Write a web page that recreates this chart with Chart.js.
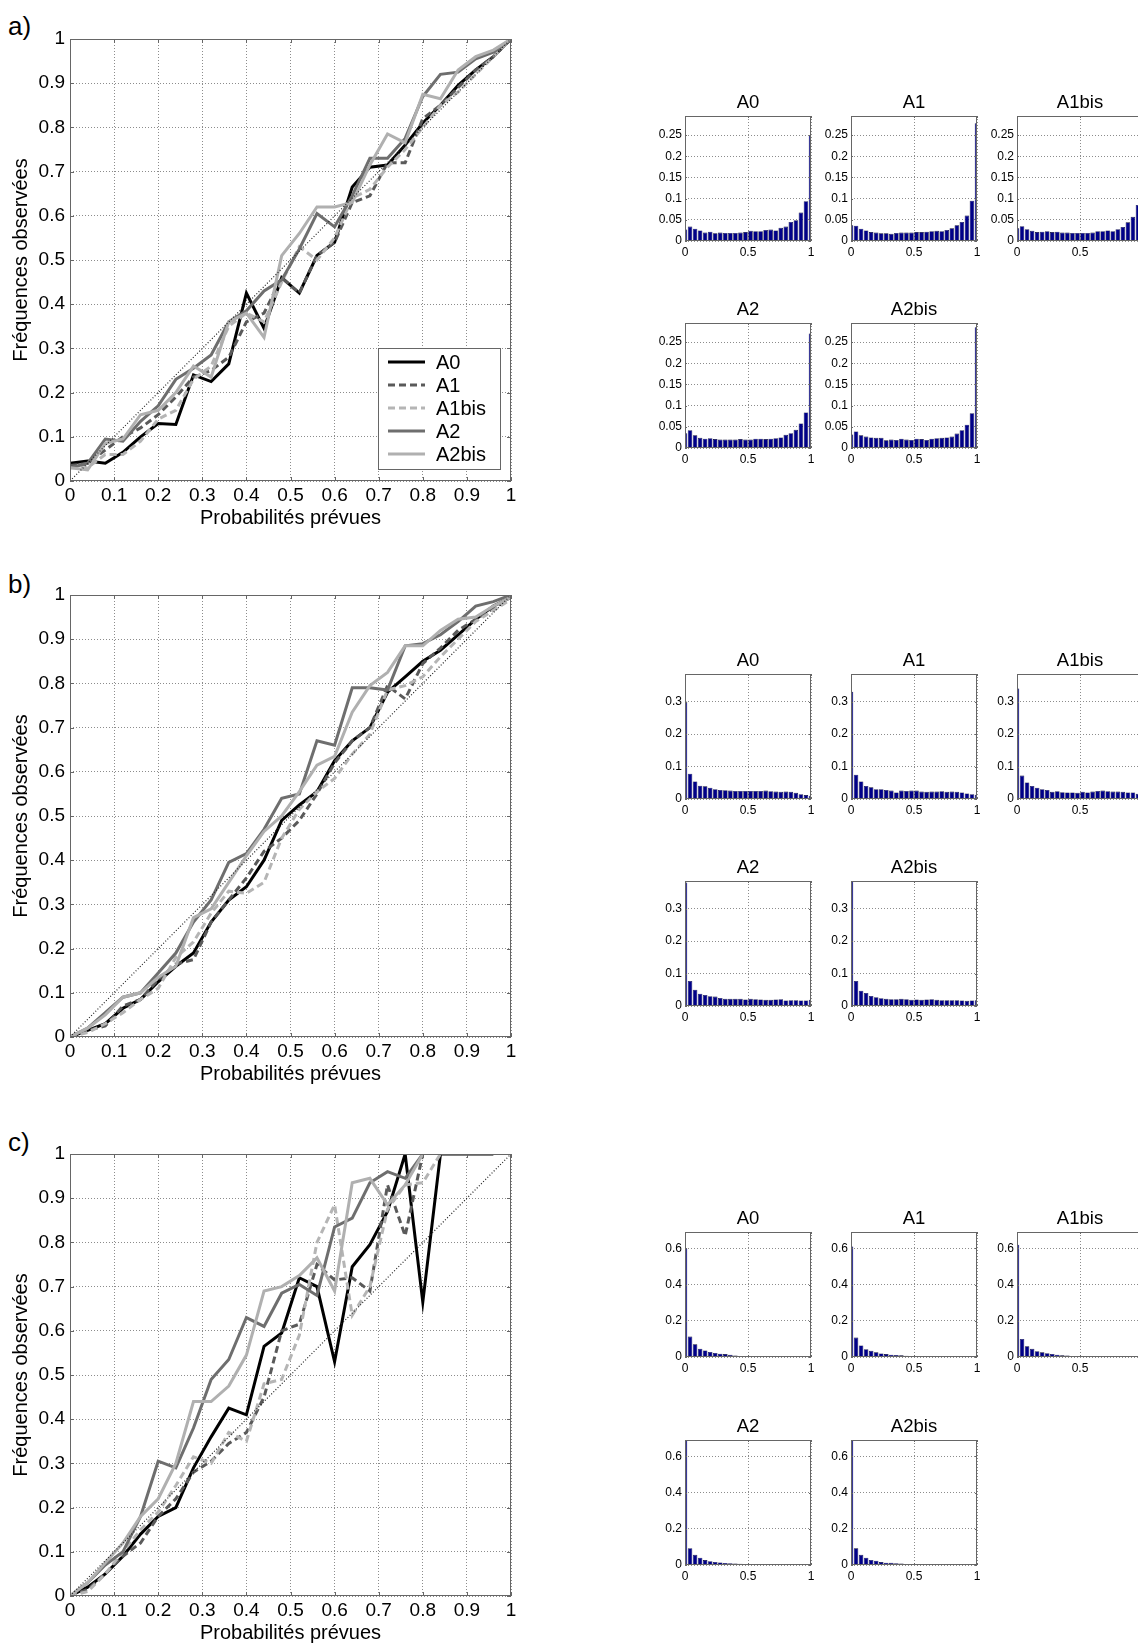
<!DOCTYPE html>
<html>
<head>
<meta charset="utf-8">
<script src="https://cdn.jsdelivr.net/npm/chart.js@4/dist/chart.umd.min.js"></script>
<style>
html, body { margin: 0; padding: 0; background: #fff; }
body { width: 1138px; height: 1646px; position: relative; overflow: hidden; font-family: "Liberation Sans", Arial, sans-serif; }
canvas { position: absolute; }
.panel { position: absolute; font-size: 26px; line-height: 30px; color: #000; }
</style>
</head>
<body>
<div class="panel" style="left:8px; top:11px">a)</div>
<div class="panel" style="left:8px; top:569px">b)</div>
<div class="panel" style="left:8px; top:1127px">c)</div>
<script>
// forecast probability classes (also the histogram bin centres)
const probs = [0, 0.04, 0.08, 0.12, 0.16, 0.2, 0.24, 0.28, 0.32, 0.36, 0.4, 0.44, 0.48,
               0.52, 0.56, 0.6, 0.64, 0.68, 0.72, 0.76, 0.8, 0.84, 0.88, 0.92, 0.96, 1];
const names = ['A0', 'A1', 'A1bis', 'A2', 'A2bis'];
const perfect = [0, 1];

// observed frequencies, panel a
const a_A0    = [0.04, 0.045, 0.04, 0.065, 0.10, 0.13, 0.128, 0.24, 0.225, 0.265, 0.425, 0.345, 0.46, 0.425, 0.51, 0.54, 0.665, 0.71, 0.715, 0.76, 0.81, 0.85, 0.895, 0.93, 0.96, 1.0];
const a_A1    = [0.035, 0.04, 0.07, 0.10, 0.12, 0.15, 0.19, 0.235, 0.25, 0.28, 0.36, 0.38, 0.46, 0.425, 0.51, 0.54, 0.63, 0.645, 0.72, 0.72, 0.82, 0.85, 0.89, 0.93, 0.96, 1.0];
const a_A1bis = [0.03, 0.03, 0.06, 0.06, 0.09, 0.14, 0.16, 0.23, 0.26, 0.35, 0.38, 0.36, 0.45, 0.53, 0.50, 0.55, 0.64, 0.66, 0.71, 0.75, 0.80, 0.85, 0.88, 0.92, 0.96, 1.0];
const a_A2    = [0.03, 0.04, 0.095, 0.09, 0.135, 0.17, 0.23, 0.255, 0.285, 0.36, 0.385, 0.43, 0.455, 0.525, 0.605, 0.575, 0.645, 0.73, 0.73, 0.775, 0.87, 0.92, 0.925, 0.955, 0.97, 1.0];
const a_A2bis = [0.03, 0.025, 0.085, 0.095, 0.15, 0.16, 0.20, 0.26, 0.235, 0.36, 0.38, 0.325, 0.51, 0.56, 0.62, 0.62, 0.63, 0.715, 0.785, 0.765, 0.875, 0.865, 0.93, 0.96, 0.975, 1.0];

// panel b
const b_A0    = [0, 0.015, 0.03, 0.065, 0.085, 0.125, 0.16, 0.19, 0.26, 0.31, 0.34, 0.40, 0.49, 0.525, 0.555, 0.625, 0.67, 0.70, 0.78, 0.815, 0.85, 0.875, 0.91, 0.945, 0.975, 0.995];
const b_A1    = [0, 0.015, 0.025, 0.07, 0.085, 0.13, 0.165, 0.175, 0.26, 0.31, 0.36, 0.42, 0.45, 0.49, 0.55, 0.62, 0.67, 0.70, 0.795, 0.765, 0.845, 0.88, 0.92, 0.945, 0.97, 0.995];
const b_A1bis = [0, 0.01, 0.03, 0.055, 0.085, 0.11, 0.18, 0.215, 0.28, 0.33, 0.325, 0.35, 0.45, 0.515, 0.555, 0.585, 0.64, 0.685, 0.785, 0.795, 0.815, 0.86, 0.90, 0.94, 0.965, 0.99];
const b_A2    = [0, 0.02, 0.055, 0.09, 0.10, 0.145, 0.19, 0.26, 0.31, 0.395, 0.415, 0.47, 0.54, 0.55, 0.67, 0.66, 0.79, 0.79, 0.785, 0.885, 0.89, 0.91, 0.94, 0.975, 0.985, 1.0];
const b_A2bis = [0, 0.02, 0.05, 0.09, 0.10, 0.135, 0.16, 0.27, 0.29, 0.35, 0.41, 0.465, 0.50, 0.555, 0.615, 0.635, 0.735, 0.795, 0.825, 0.885, 0.885, 0.92, 0.945, 0.95, 0.975, 0.995];

// panel c (empty classes left out)
const c_A0    = [0, 0.02, 0.05, 0.09, 0.14, 0.18, 0.20, 0.29, 0.36, 0.425, 0.41, 0.565, 0.595, 0.72, 0.70, 0.53, 0.745, 0.795, 0.87, 1.0, 0.665, 1.0, 1.0, 1.0, 1.0, null];
const c_A1    = [0, 0.015, 0.05, 0.09, 0.12, 0.18, 0.22, 0.28, 0.305, 0.345, 0.37, 0.45, 0.60, 0.615, 0.75, 0.715, 0.72, 0.69, 0.93, 0.815, 1.0, null, null, null, null, null];
const c_A1bis = [0, 0.01, 0.05, 0.10, 0.15, 0.19, 0.25, 0.315, 0.30, 0.37, 0.35, 0.48, 0.49, 0.59, 0.80, 0.885, 0.635, 0.70, 0.875, 0.93, 0.935, 1.0, null, null, null, null];
const c_A2    = [0, 0.03, 0.07, 0.10, 0.18, 0.305, 0.29, 0.38, 0.49, 0.535, 0.63, 0.61, 0.685, 0.705, 0.68, 0.835, 0.855, 0.935, 0.96, 0.945, 1.0, null, null, null, null, null];
const c_A2bis = [0, 0.03, 0.075, 0.12, 0.18, 0.22, 0.30, 0.44, 0.44, 0.475, 0.545, 0.69, 0.70, 0.725, 0.765, 0.69, 0.935, 0.945, 0.885, 0.93, 1.0, null, null, null, null, null];

// forecast frequency histograms
const a_hA0    = [0.027, 0.034, 0.029, 0.025, 0.020, 0.022, 0.018, 0.020, 0.019, 0.019, 0.019, 0.020, 0.021, 0.024, 0.023, 0.023, 0.026, 0.027, 0.025, 0.031, 0.034, 0.045, 0.049, 0.067, 0.094, 0.250];
const a_hA1    = [0.037, 0.036, 0.029, 0.025, 0.021, 0.020, 0.018, 0.018, 0.017, 0.019, 0.020, 0.020, 0.020, 0.021, 0.021, 0.022, 0.023, 0.024, 0.023, 0.026, 0.030, 0.037, 0.045, 0.060, 0.095, 0.278];
const a_hA1bis = [0.030, 0.035, 0.028, 0.024, 0.021, 0.022, 0.023, 0.021, 0.022, 0.020, 0.020, 0.019, 0.019, 0.019, 0.019, 0.020, 0.023, 0.023, 0.025, 0.023, 0.028, 0.033, 0.044, 0.057, 0.085, 0.270];
const a_hA2    = [0.035, 0.042, 0.030, 0.024, 0.022, 0.023, 0.021, 0.020, 0.020, 0.020, 0.020, 0.021, 0.020, 0.020, 0.022, 0.022, 0.021, 0.022, 0.023, 0.025, 0.031, 0.035, 0.043, 0.058, 0.084, 0.270];
const a_hA2bis = [0.032, 0.039, 0.030, 0.027, 0.025, 0.024, 0.024, 0.018, 0.020, 0.019, 0.022, 0.020, 0.019, 0.022, 0.021, 0.019, 0.022, 0.023, 0.024, 0.025, 0.027, 0.034, 0.042, 0.055, 0.082, 0.285];

const b_hA0    = [0.300, 0.078, 0.054, 0.041, 0.039, 0.035, 0.030, 0.028, 0.027, 0.026, 0.025, 0.025, 0.025, 0.025, 0.025, 0.025, 0.026, 0.024, 0.023, 0.022, 0.023, 0.022, 0.019, 0.015, 0.012, 0.010];
const b_hA1    = [0.330, 0.075, 0.054, 0.040, 0.036, 0.030, 0.030, 0.028, 0.026, 0.020, 0.026, 0.025, 0.026, 0.026, 0.023, 0.022, 0.023, 0.023, 0.024, 0.022, 0.023, 0.022, 0.020, 0.017, 0.015, 0.013];
const b_hA1bis = [0.340, 0.072, 0.051, 0.040, 0.035, 0.030, 0.028, 0.022, 0.024, 0.021, 0.020, 0.020, 0.019, 0.022, 0.020, 0.023, 0.025, 0.026, 0.024, 0.023, 0.023, 0.022, 0.020, 0.020, 0.016, 0.014];
const b_hA2    = [0.380, 0.077, 0.050, 0.038, 0.034, 0.030, 0.029, 0.025, 0.022, 0.022, 0.022, 0.022, 0.020, 0.022, 0.021, 0.020, 0.019, 0.019, 0.020, 0.021, 0.017, 0.018, 0.018, 0.017, 0.017, 0.019];
const b_hA2bis = [0.385, 0.077, 0.047, 0.040, 0.031, 0.027, 0.024, 0.022, 0.021, 0.021, 0.022, 0.021, 0.019, 0.020, 0.019, 0.020, 0.021, 0.019, 0.018, 0.018, 0.018, 0.018, 0.017, 0.016, 0.017, 0.018];

const c_hA0    = [0.600, 0.113, 0.070, 0.046, 0.036, 0.028, 0.022, 0.018, 0.016, 0.012, 0.008, 0.006, 0.005, 0.004, 0.003, 0.002, 0.002, 0.001, 0.001, 0, 0, 0, 0, 0, 0, 0];
const c_hA1    = [0.610, 0.107, 0.064, 0.043, 0.034, 0.026, 0.020, 0.016, 0.013, 0.011, 0.009, 0.007, 0.006, 0.004, 0.003, 0.003, 0.002, 0.002, 0.001, 0.001, 0.001, 0.001, 0.001, 0.0005, 0, 0];
const c_hA1bis = [0.620, 0.100, 0.059, 0.045, 0.032, 0.026, 0.021, 0.017, 0.013, 0.009, 0.008, 0.006, 0.005, 0.004, 0.003, 0.002, 0.002, 0.001, 0.001, 0.001, 0.001, 0, 0, 0, 0, 0];
const c_hA2    = [0.690, 0.093, 0.056, 0.040, 0.027, 0.021, 0.017, 0.014, 0.011, 0.010, 0.008, 0.007, 0.006, 0.005, 0.003, 0.004, 0.003, 0.002, 0.002, 0.002, 0.001, 0.001, 0.001, 0.001, 0.001, 0];
const c_hA2bis = [0.690, 0.092, 0.056, 0.040, 0.028, 0.024, 0.016, 0.013, 0.012, 0.010, 0.008, 0.006, 0.005, 0.004, 0.003, 0.002, 0.002, 0.001, 0.001, 0.001, 0, 0, 0, 0, 0, 0];

const histMax  = [0.295, 0.385, 0.69];
const histStep = [0.05, 0.1, 0.2];

// line styles per scheme
const lineColors = ['#000000', '#5a5a5a', '#b5b5b5', '#6e6e6e', '#b0b0b0'];
const lineDashes = [[], [7, 4], [7, 4], [], []];

const FONT = '"Liberation Sans", Arial, sans-serif';
const fmt = v => String(Math.round(v * 100) / 100);

// axes box with inward ticks, matlab style
const axesBox = {
    id: 'axesBox',
    afterDatasetsDraw(chart, args, opts) {
        const {ctx, chartArea: a, scales} = chart;
        ctx.save();
        ctx.strokeStyle = '#666';
        ctx.lineWidth = 1;
        ctx.setLineDash([]);
        ctx.strokeRect(a.left + 0.5, a.top + 0.5, a.right - a.left - 1, a.bottom - a.top - 1);
        const tl = opts.tick || 4;
        ctx.beginPath();
        for (let t of scales.x.ticks) {
            let px = Math.round(scales.x.getPixelForValue(t.value)) + 0.5;
            ctx.moveTo(px, a.bottom); ctx.lineTo(px, a.bottom - tl);
            ctx.moveTo(px, a.top); ctx.lineTo(px, a.top + tl);
        }
        for (let t of scales.y.ticks) {
            let py = Math.round(scales.y.getPixelForValue(t.value)) + 0.5;
            ctx.moveTo(a.left, py); ctx.lineTo(a.left + tl, py);
            ctx.moveTo(a.right, py); ctx.lineTo(a.right - tl, py);
        }
        ctx.stroke();
        ctx.restore();
    }
};

// legend box drawn inside the plot, bottom right
const boxLegend = {
    id: 'boxLegend',
    afterDatasetsDraw(chart, args, opts) {
        if (!opts.show) return;
        const {ctx, chartArea: a} = chart;
        const w = 122, h = 121;
        const x0 = a.right - 11 - w, y0 = a.bottom - 12 - h;
        ctx.save();
        ctx.fillStyle = '#fff';
        ctx.fillRect(x0, y0, w, h);
        ctx.strokeStyle = '#666';
        ctx.lineWidth = 1;
        ctx.strokeRect(x0 + 0.5, y0 + 0.5, w, h);
        let ds = chart.data.datasets.filter(d => d.inLegend);
        ds.forEach((d, i) => {
            let y = y0 + 14 + i * 23;
            ctx.beginPath();
            ctx.strokeStyle = d.borderColor;
            ctx.lineWidth = d.borderWidth;
            ctx.setLineDash(d.borderDash);
            ctx.moveTo(x0 + 10, y); ctx.lineTo(x0 + 47, y);
            ctx.stroke();
            ctx.setLineDash([]);
            ctx.fillStyle = '#000';
            ctx.font = '20px ' + FONT;
            ctx.textBaseline = 'middle';
            ctx.fillText(d.label, x0 + 58, y + 1);
        });
        ctx.restore();
    }
};

function addCanvas(left, top, w, h){
    let c = document.createElement('canvas');
    c.width = w; c.height = h;
    c.style.left = left + 'px'; c.style.top = top + 'px';
    c.style.width = w + 'px'; c.style.height = h + 'px';
    document.body.appendChild(c);
    return c;
}

function makeReliability(top, series, withLegend){
    let canvas = addCanvas(0, top - 39, 530, 39 + 442 + 50);
    let datasets = series.map((vals, i) => ({
        label: names[i],
        data: probs.map((p, j) => ({x: p, y: vals[j]})),
        borderColor: lineColors[i],
        borderDash: lineDashes[i],
        borderWidth: 3,
        pointRadius: 0,
        tension: 0,
        spanGaps: false,
        clip: 0,
        order: 5 - i,
        inLegend: true
    }));
    datasets.push({
        label: 'diag',
        data: perfect.map(p => ({x: p, y: p})),
        borderColor: '#222',
        borderDash: [1, 2],
        borderWidth: 1.2,
        pointRadius: 0,
        clip: 0,
        order: 0
    });
    let tickFont = {family: FONT, size: 19};
    let titleFont = {family: FONT, size: 20};
    new Chart(canvas, {
        type: 'line',
        data: {datasets: datasets},
        options: {
            responsive: false,
            animation: false,
            devicePixelRatio: 1,
            layout: {padding: {top: 39, right: 19, left: 0, bottom: 0}},
            plugins: {legend: {display: false}, tooltip: {enabled: false}, boxLegend: {show: withLegend}, axesBox: {tick: 4}},
            scales: {
                x: {
                    type: 'linear', min: 0, max: 1,
                    ticks: {stepSize: 0.1, padding: 3, color: '#000', font: tickFont, callback: fmt, maxRotation: 0},
                    grid: {color: '#8c8c8c', drawTicks: false},
                    border: {display: false, dash: [1, 2]},
                    title: {display: true, text: 'Probabilités prévues', color: '#000', font: titleFont, padding: {top: 0, bottom: 1}},
                    afterFit: s => { s.height = 50; }
                },
                y: {
                    type: 'linear', min: 0, max: 1,
                    ticks: {stepSize: 0.1, padding: 5, color: '#000', font: tickFont, callback: fmt},
                    grid: {color: '#8c8c8c', drawTicks: false},
                    border: {display: false, dash: [1, 2]},
                    title: {display: true, text: 'Fréquences observées', color: '#000', font: titleFont, padding: {top: 9, bottom: 0}},
                    afterFit: s => { s.width = 70; }
                }
            }
        },
        plugins: [axesBox, boxLegend]
    });
}

function makeHist(left, top, values, name, ymax, ystep){
    let canvas = addCanvas(left - 42, top - 30, 42 + 126 + 10, 30 + 125 + 22);
    let tickFont = {family: FONT, size: 12};
    new Chart(canvas, {
        type: 'bar',
        data: {datasets: [{
            label: name,
            data: probs.map((p, j) => ({x: p, y: values[j]})),
            backgroundColor: '#000088',
            borderColor: '#00002e',
            borderWidth: 0.6,
            barPercentage: 0.9,
            categoryPercentage: 1,
            clip: 0
        }]},
        options: {
            responsive: false,
            animation: false,
            devicePixelRatio: 1,
            layout: {padding: {top: 0, right: 10, left: 0, bottom: 0}},
            plugins: {
                legend: {display: false},
                tooltip: {enabled: false},
                axesBox: {tick: 2},
                title: {display: true, text: name, fullSize: false, color: '#000',
                        font: {family: FONT, size: 18.5, weight: 'normal', lineHeight: 1.2}, padding: {top: 6, bottom: 1.8}}
            },
            scales: {
                x: {
                    type: 'linear', min: 0, max: 1, offset: false,
                    ticks: {stepSize: 0.5, padding: 4, color: '#000', font: tickFont, callback: fmt, maxRotation: 0},
                    grid: {color: '#8c8c8c', drawTicks: false, offset: false},
                    border: {display: false, dash: [1, 2]},
                    afterFit: s => { s.height = 22; }
                },
                y: {
                    type: 'linear', min: 0, max: ymax,
                    ticks: {stepSize: ystep, includeBounds: false, padding: 3, color: '#000', font: tickFont, callback: fmt},
                    grid: {color: '#8c8c8c', drawTicks: false},
                    border: {display: false, dash: [1, 2]},
                    afterFit: s => { s.width = 42; }
                }
            }
        },
        plugins: [axesBox]
    });
}

// layout of the three panels
const mainTops = [39, 595, 1154];
const histCols = [685, 851, 1017];
const histRows = [[116, 323], [674, 881], [1232, 1440]];

const lineSets = [
    [a_A0, a_A1, a_A1bis, a_A2, a_A2bis],
    [b_A0, b_A1, b_A1bis, b_A2, b_A2bis],
    [c_A0, c_A1, c_A1bis, c_A2, c_A2bis]
];
const histSets = [
    [a_hA0, a_hA1, a_hA1bis, a_hA2, a_hA2bis],
    [b_hA0, b_hA1, b_hA1bis, b_hA2, b_hA2bis],
    [c_hA0, c_hA1, c_hA1bis, c_hA2, c_hA2bis]
];

for (let p = 0; p < 3; p++) {
    makeReliability(mainTops[p], lineSets[p], p === 0);
    histSets[p].forEach((h, i) => {
        let col = i < 3 ? i : i - 3;
        let row = i < 3 ? 0 : 1;
        makeHist(histCols[col], histRows[p][row], h, names[i], histMax[p], histStep[p]);
    });
}
</script>
</body>
</html>
